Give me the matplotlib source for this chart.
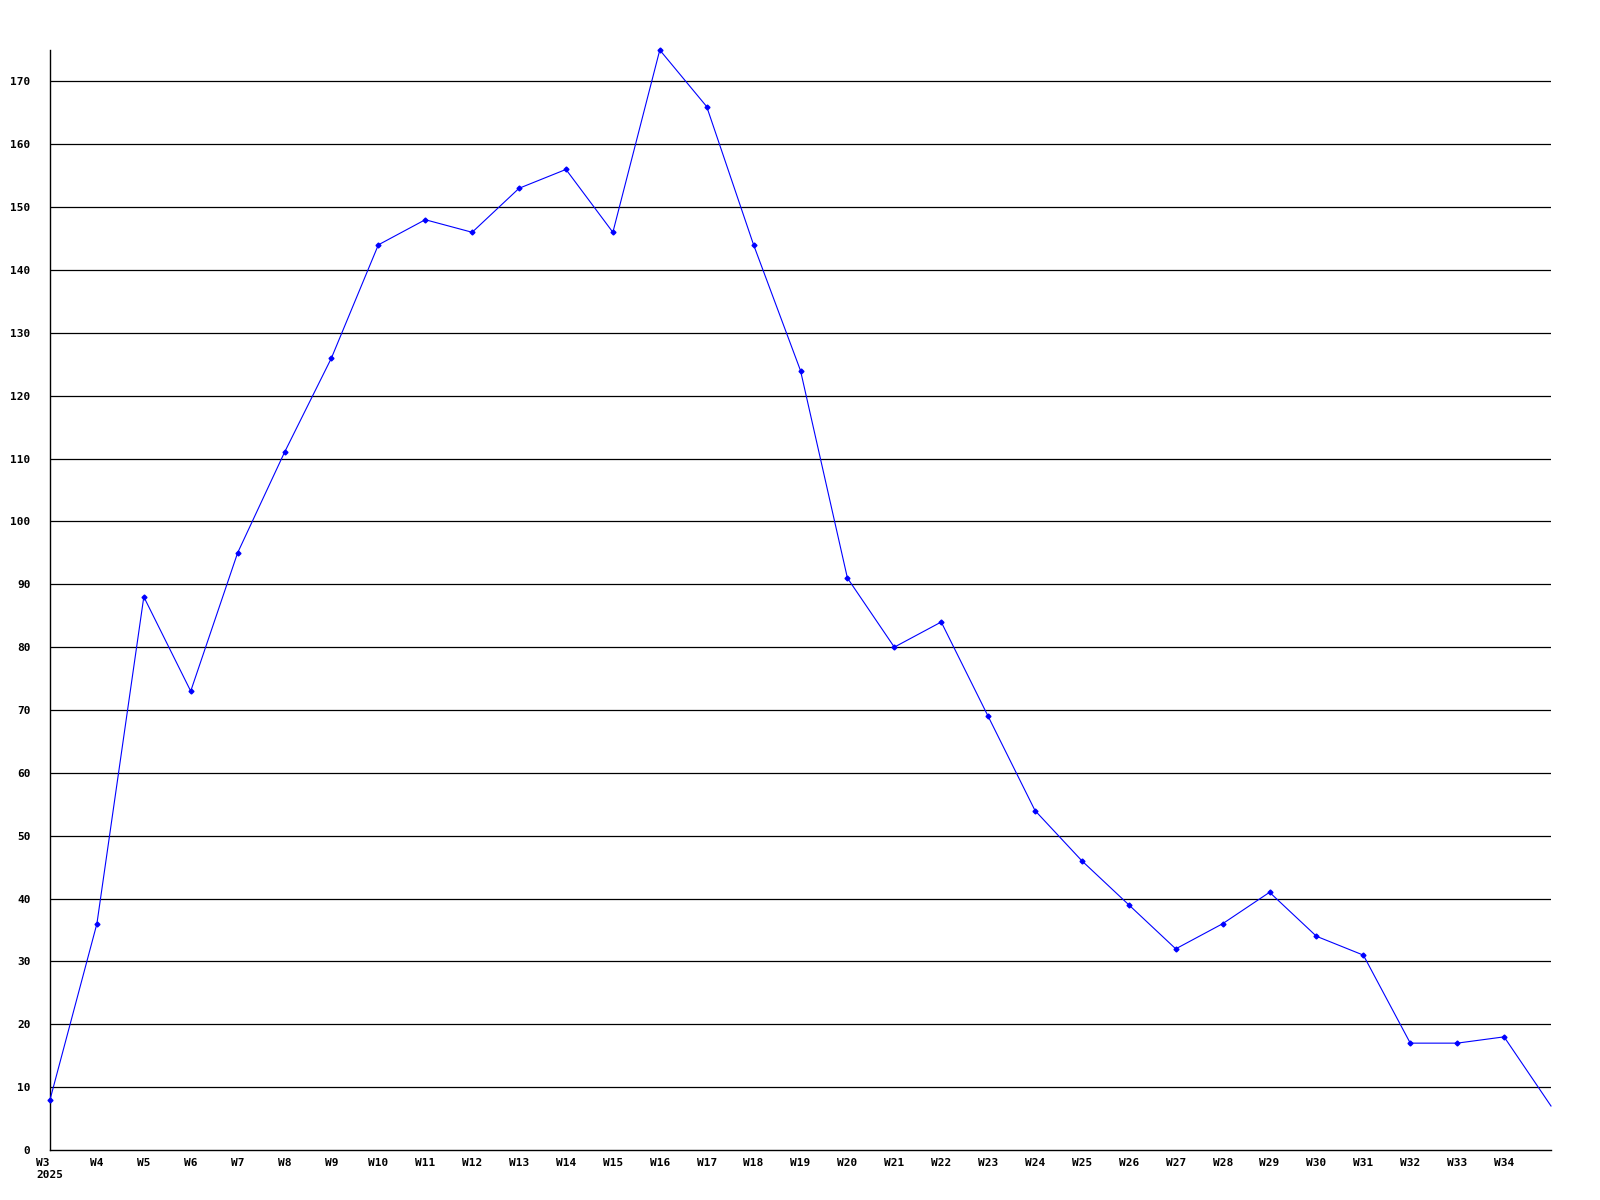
import matplotlib
matplotlib.use("Agg")
from matplotlib import pyplot as plt

weeks = ["W%d" % w for w in range(3, 36)]
counts = [8, 36, 88, 73, 95, 111, 126, 144, 148, 146, 153, 156, 146, 175, 166,
          144, 124, 91, 80, 84, 69, 54, 46, 39, 32, 36, 41, 34, 31, 17, 17, 18, 7]
tick_labels = ["W3\n2025"] + weeks[1:-1]
y_ticks = list(range(0, 171, 10))

plt.rcParams['font.family'] = ['DejaVu Sans Mono']
plt.rcParams['font.weight'] = 'bold'

fig = plt.figure(figsize=(16, 12), dpi=100)
ax = fig.add_axes([50/1600, 50/1200, 1501/1600, 1100/1200])

xs = list(range(len(counts)))
for t in y_ticks[1:]:
    ax.axhline(t, color='black', lw=0.9, zorder=1)

ax.plot(xs, counts, color='#0000ff', lw=0.8, marker='D', markersize=2.5,
        markevery=list(range(len(counts) - 1)), zorder=3, clip_on=False)

ax.set_xlim(0, len(counts) - 1)
ax.set_ylim(0, 175)
ax.set_yticks(y_ticks)
ax.set_yticklabels([str(t) for t in y_ticks])
ax.set_xticks(xs[:-1])
ax.set_xticklabels(tick_labels, multialignment='left')
ax.tick_params(axis='both', length=0, labelsize=8)
ax.tick_params(axis='y', pad=14)
ax.tick_params(axis='x', pad=6)

ax.spines['top'].set_visible(False)
ax.spines['right'].set_visible(False)
ax.spines['left'].set_linewidth(1.0)
ax.spines['bottom'].set_linewidth(1.0)

fig.savefig("out.png", dpi=100)
